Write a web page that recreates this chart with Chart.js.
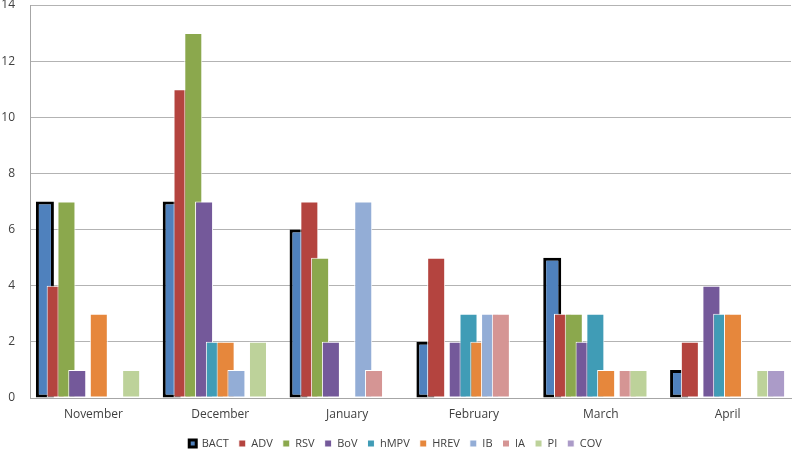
<!DOCTYPE html>
<html lang="en">
<head>
  <meta charset="UTF-8" />
  <title>Virus detections by month</title>
  <script src="https://cdn.jsdelivr.net/npm/chart.js"></script>
  <style>
    body {
      margin: 0;
      background: #fff;
    }
    .chart-container {
      width: 793px;
      height: 451px;
    }
  </style>
</head>
<body>

  <div class="chart-container">
    <canvas id="virusChart"></canvas>
  </div>

  <script>
    const months = ['November', 'December', 'January', 'February', 'March', 'April'];
    const seriesNames = ['BACT', 'ADV', 'RSV', 'BoV', 'hMPV', 'HREV', 'IB', 'IA', 'PI', 'COV'];
    const seriesColors = ['#4F81BD', '#B4443F', '#8BA84D', '#74599A', '#409CB6', '#E6873C', '#93ADD6', '#D59594', '#BDD29A', '#AB9BC8'];

    const bact = [7, 7, 6, 2, 5, 1];
    const adv  = [4, 11, 7, 5, 3, 2];
    const rsv  = [7, 13, 5, 0, 3, 0];
    const bov  = [1, 7, 2, 2, 2, 4];
    const hmpv = [0, 2, 0, 3, 3, 3];
    const hrev = [3, 2, 0, 2, 1, 3];
    const ib   = [0, 1, 7, 3, 0, 0];
    const ia   = [0, 0, 1, 3, 1, 0];
    const pi   = [1, 2, 0, 0, 1, 1];
    const cov  = [0, 0, 0, 0, 0, 1];

    const seriesValues = [bact, adv, rsv, bov, hmpv, hrev, ib, ia, pi, cov];

    const datasets = seriesNames.map((name, i) => ({
      label: name,
      data: seriesValues[i],
      backgroundColor: seriesColors[i],
      borderColor: i === 0 ? '#000000' : '#FFFFFF',
      borderWidth: i === 0 ? 3 : 1,
      borderSkipped: false
    }));

    // Excel style overlap: later series are painted over earlier ones
    const forwardDraw = {
      id: 'forwardDraw',
      beforeDatasetsDraw(chart) {
        chart.getSortedVisibleDatasetMetas().forEach(meta => meta.controller.draw());
        return false;
      }
    };

    new Chart(document.getElementById('virusChart'), {
      type: 'bar',
      data: {
        labels: months,
        datasets: datasets
      },
      plugins: [forwardDraw],
      options: {
        responsive: true,
        maintainAspectRatio: false,
        animation: false,
        datasets: {
          bar: {
            categoryPercentage: 0.85,
            barPercentage: 1.67
          }
        },
        layout: {
          padding: { left: 0, right: 2, top: 0, bottom: -8 }
        },
        scales: {
          x: {
            grid: { display: false, drawTicks: false },
            border: { display: true, color: '#A6A6A6' },
            ticks: {
              color: '#404040',
              font: { family: 'Open Sans', size: 12 },
              padding: 9
            },
            afterFit(scale) {
              scale.height = 30;
            }
          },
          y: {
            min: 0,
            max: 14,
            ticks: {
              stepSize: 2,
              color: '#404040',
              font: { family: 'Open Sans', size: 12 },
              padding: 15
            },
            grid: { color: '#B3B3B3', drawTicks: false },
            border: { display: true, color: '#A6A6A6' },
            afterFit(scale) {
              scale.width = 30;
              scale.paddingTop = 5;
              scale.paddingBottom = 0;
            }
          }
        },
        plugins: {
          tooltip: { enabled: false },
          legend: {
            position: 'bottom',
            labels: {
              boxWidth: 7,
              boxHeight: 7,
              padding: 10,
              color: '#404040',
              font: { family: 'Open Sans', size: 11 },
              sort: (a, b) => a.datasetIndex - b.datasetIndex
            }
          }
        }
      }
    });
  </script>
</body>
</html>
